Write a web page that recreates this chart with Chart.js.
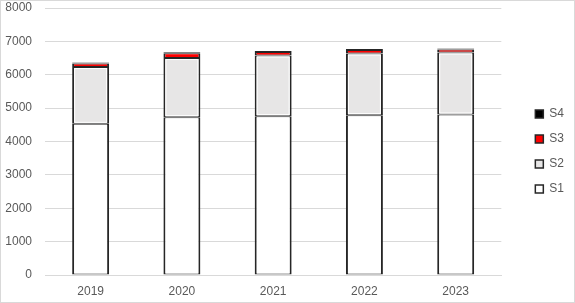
<!DOCTYPE html>
<html>
<head>
<meta charset="utf-8">
<script src="https://cdn.jsdelivr.net/npm/chart.js@4/dist/chart.umd.min.js"></script>
<style>
    html, body { margin: 0; padding: 0; background: #ffffff; }
    #wrap {
        width: 575px;
        height: 303px;
        box-sizing: border-box;
        border: 1px solid #d9d9d9;
        position: relative;
    }
</style>
</head>
<body>
<div id="wrap"><canvas id="chart"></canvas></div>
<script>
// Chart data
const years = ['2019', '2020', '2021', '2022', '2023'];
const s1Values = [4530, 4730, 4760, 4790, 4810];
const s2Values = [1700, 1770, 1815, 1845, 1855];
const s3Values = [110, 145, 110, 105, 95];
const s4Values = [30, 30, 30, 30, 30];

const textColor = '#595959';
const gridColor = '#d9d9d9';
const edgeColor = '#262626';
const labelFont = { family: 'Liberation Sans', size: 12, lineHeight: 1 };

function makeSeries(label, data, fill) {
    return {
        label: label,
        data: data,
        backgroundColor: fill,
        borderColor: edgeColor,
        borderWidth: { top: 1, bottom: 1, left: 2, right: 2 },
        borderSkipped: false,
        categoryPercentage: 1,
        barPercentage: 0.405
    };
}

// thin white line just inside the grey S2 segments
const innerLine = {
    id: 'innerLine',
    afterDatasetsDraw(chart) {
        const meta = chart.getDatasetMeta(1);
        const c = chart.ctx;
        c.save();
        c.strokeStyle = '#ffffff';
        c.lineWidth = 1;
        meta.data.forEach(bar => {
            const p = bar.getProps(['x', 'y', 'base', 'width'], true);
            const left = p.x - p.width / 2 + 2.5;
            const right = p.x + p.width / 2 - 2.5;
            c.strokeRect(left, p.y + 1.5, right - left, p.base - p.y - 3);
        });
        c.restore();
    }
};

const ctx = document.getElementById('chart').getContext('2d');
new Chart(ctx, {
    type: 'bar',
    data: {
        labels: years,
        datasets: [
            makeSeries('S1', s1Values, '#ffffff'),
            makeSeries('S2', s2Values, '#e7e6e6'),
            makeSeries('S3', s3Values, '#ff0000'),
            makeSeries('S4', s4Values, '#000000')
        ]
    },
    options: {
        responsive: true,
        maintainAspectRatio: false,
        animation: false,
        layout: {
            padding: { top: 0, right: 0, bottom: 0, left: 0 }
        },
        plugins: {
            legend: {
                position: 'right',
                reverse: true,
                labels: {
                    boxWidth: 8,
                    boxHeight: 8,
                    padding: 13,
                    color: textColor,
                    font: labelFont
                }
            },
            tooltip: { enabled: false }
        },
        scales: {
            x: {
                stacked: true,
                grid: { display: false, drawTicks: false },
                border: { display: true, color: gridColor, width: 1 },
                ticks: {
                    padding: 11,
                    color: textColor,
                    font: labelFont
                },
                afterFit: function(axis) { axis.height = 27; }
            },
            y: {
                stacked: true,
                min: 0,
                max: 8000,
                grid: {
                    color: gridColor,
                    lineWidth: 1,
                    drawTicks: true,
                    tickLength: 12,
                    tickColor: 'rgba(0,0,0,0)'
                },
                border: { display: false },
                ticks: {
                    stepSize: 1000,
                    padding: 1,
                    color: textColor,
                    font: labelFont,
                    callback: function(value) { return String(value); }
                },
                afterFit: function(axis) { axis.width = 44; }
            },
            // empty spacer between plot and legend
            spacer: {
                type: 'linear',
                position: 'right',
                display: true,
                grid: { display: false, drawTicks: false },
                border: { display: false },
                ticks: { display: false },
                afterFit: function(axis) { axis.width = 21; }
            }
        }
    },
    plugins: [innerLine]
});
</script>
</body>
</html>
